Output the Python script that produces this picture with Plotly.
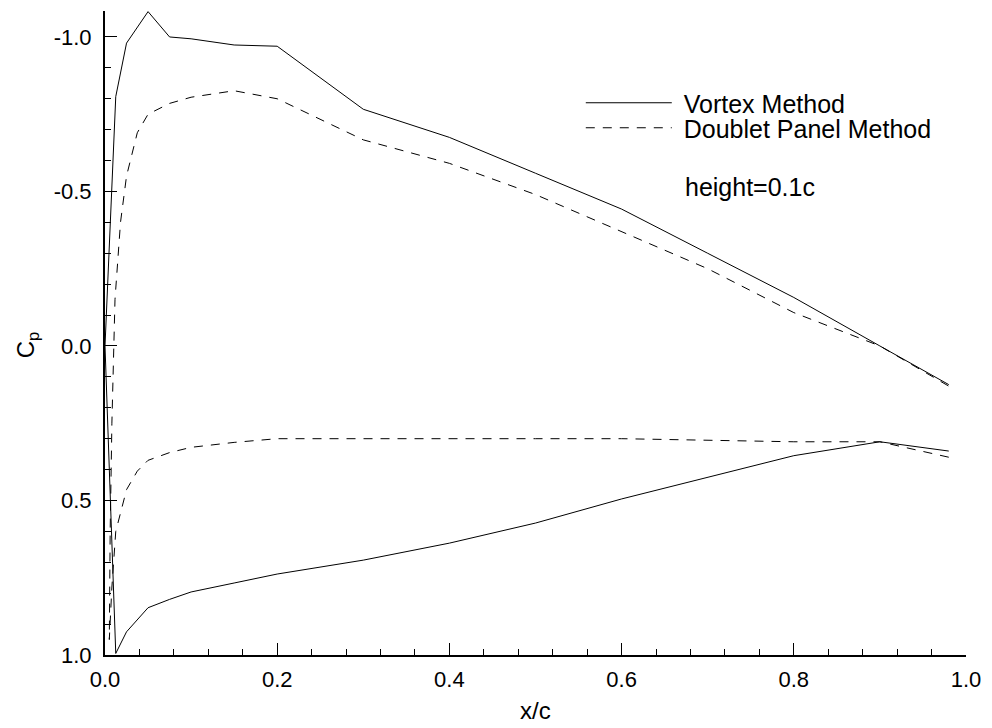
import plotly.graph_objects as go

# Vortex Method: lower surface from trailing edge to leading edge, then upper surface back to TE
vortex_x = [0.98, 0.9, 0.8, 0.7, 0.6, 0.5, 0.4, 0.3, 0.2, 0.15, 0.1, 0.075, 0.05, 0.025, 0.0125,
            0.0,
            0.0125, 0.025, 0.05, 0.075, 0.1, 0.15, 0.2, 0.3, 0.4, 0.5, 0.6, 0.7, 0.8, 0.9, 0.98]
vortex_cp = [0.34, 0.31, 0.355, 0.425, 0.495, 0.573, 0.638, 0.693, 0.738, 0.767, 0.796, 0.82, 0.847, 0.925, 0.995,
             0.0,
             -0.807, -0.98, -1.082, -1.0, -0.994, -0.974, -0.97, -0.766, -0.675, -0.559, -0.443, -0.30, -0.157, 0.0, 0.125]

# Doublet Panel Method
doublet_x = [0.98, 0.9, 0.8, 0.7, 0.6, 0.5, 0.4, 0.3, 0.2, 0.15, 0.1, 0.075, 0.05, 0.0375, 0.025, 0.0125, 0.008,
             0.005,
             0.006, 0.008, 0.0116, 0.018, 0.025, 0.0375, 0.05, 0.075, 0.1, 0.15, 0.2, 0.3, 0.4, 0.5, 0.6, 0.7, 0.8, 0.9, 0.98]
doublet_cp = [0.36, 0.31, 0.31, 0.305, 0.30, 0.30, 0.30, 0.30, 0.30, 0.312, 0.328, 0.345, 0.37, 0.405, 0.465, 0.6, 0.78,
              0.95,
              0.6, 0.25, -0.15, -0.4, -0.55, -0.69, -0.75, -0.785, -0.805, -0.826, -0.80, -0.667, -0.591, -0.49, -0.37, -0.25, -0.108, 0.0, 0.13]

series_names = ["Vortex Method", "Doublet Panel Method"]

x_tickvals = [0.0, 0.2, 0.4, 0.6, 0.8, 1.0]
x_ticktext = ["0.0", "0.2", "0.4", "0.6", "0.8", "1.0"]
y_tickvals = [-1.0, -0.5, 0.0, 0.5, 1.0]
y_ticktext = ["-1.0", "-0.5", "0.0", "0.5", "1.0"]

FONT = "Liberation Sans, Arial, sans-serif"

# plot area in pixels: left 105, right 970, top 11, bottom 655
def px_x(p):
    return (p - 105) / 865

def px_y(p):
    return (655 - p) / 644

fig = go.Figure()
fig.add_trace(go.Scatter(x=vortex_x, y=vortex_cp, mode="lines", name="\u00a0" + series_names[0],
                         legend="legend",
                         line=dict(color="black", width=1)))
fig.add_trace(go.Scatter(x=doublet_x, y=doublet_cp, mode="lines", name="\u00a0" + series_names[1],
                         legend="legend2",
                         line=dict(color="black", width=1, dash="9px,8px")))

axis_common = dict(
    showline=True, linecolor="black", linewidth=2, mirror=False,
    showgrid=False, zeroline=False,
    ticks="inside", ticklen=12, tickwidth=1.3, tickcolor="black",
    tickfont=dict(family=FONT, size=22, color="black"),
)

fig.update_xaxes(range=[0, 1], tickvals=x_tickvals, ticktext=x_ticktext,
                 minor=dict(ticks="inside", ticklen=6, tickwidth=1.2, tickcolor="black", dtick=0.04, tick0=0),
                 ticklabelstandoff=4, **axis_common)
fig.update_yaxes(range=[1.0, -1.084], tickvals=y_tickvals, ticktext=y_ticktext,
                 minor=dict(ticks="inside", ticklen=6, tickwidth=1.2, tickcolor="black", dtick=0.1, tick0=0),
                 ticklabelstandoff=7, **axis_common)

legend_common = dict(xanchor="left", yanchor="middle", bgcolor="rgba(0,0,0,0)",
                     font=dict(family=FONT, size=25, color="black"), itemwidth=86)

fig.update_layout(
    width=992, height=728,
    margin=dict(l=105, r=22, t=11, b=73),
    paper_bgcolor="white", plot_bgcolor="white",
    font=dict(family=FONT, size=18, color="black"),
    showlegend=True,
    legend=dict(x=px_x(583), y=px_y(103), **legend_common),
    legend2=dict(x=px_x(583), y=px_y(128), **legend_common),
    annotations=[
        dict(text="x/c", xref="paper", yref="paper", x=px_x(538), y=px_y(710),
             xanchor="center", yanchor="middle", showarrow=False,
             font=dict(family=FONT, size=24, color="black")),
        dict(text="C<sub>p</sub>", xref="paper", yref="paper", x=px_x(28), y=px_y(345),
             xanchor="center", yanchor="middle", showarrow=False, textangle=-90,
             font=dict(family=FONT, size=24, color="black")),
        dict(text="height=0.1c", xref="paper", yref="paper", x=px_x(686), y=px_y(187),
             xanchor="left", yanchor="middle", showarrow=False,
             font=dict(family=FONT, size=25, color="black")),
    ],
)

fig.write_html("out.html")
